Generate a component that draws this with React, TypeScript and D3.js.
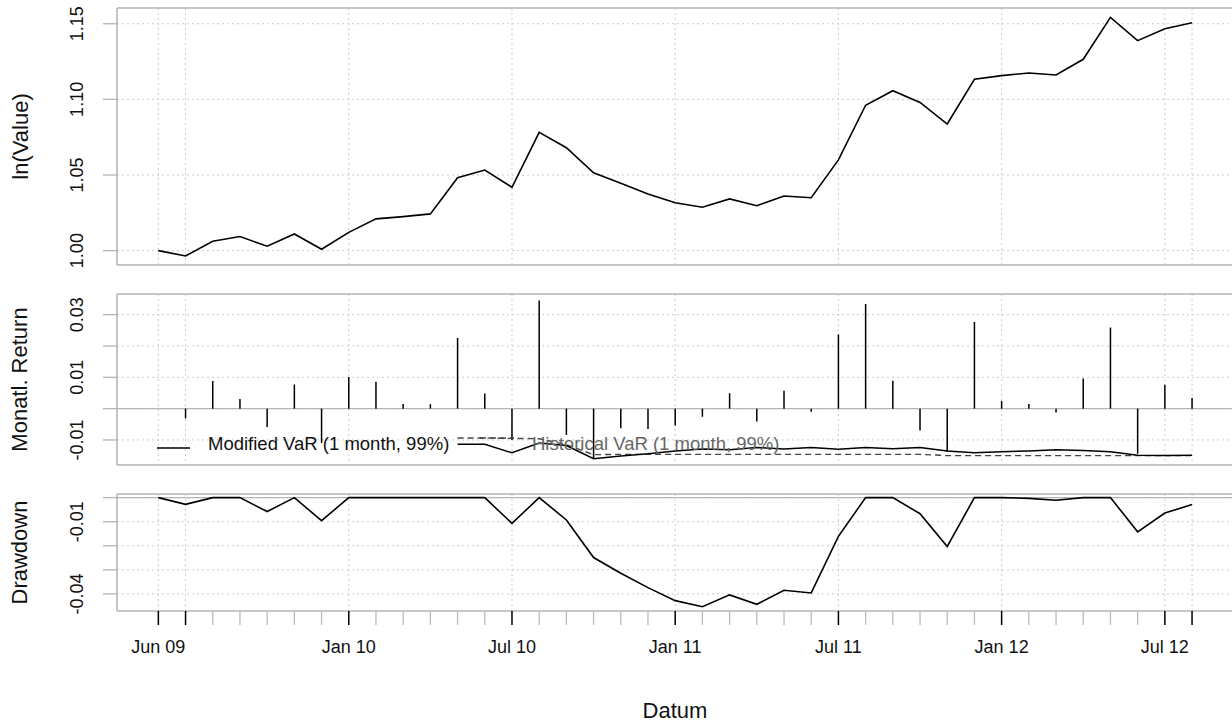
import React from 'react';
import { scalePoint, scaleLinear, line } from 'd3';

// monthly observations, first one is the starting value
const months = [
  'Jun 09', 'Jul 09', 'Aug 09', 'Sep 09', 'Oct 09', 'Nov 09', 'Dec 09',
  'Jan 10', 'Feb 10', 'Mar 10', 'Apr 10', 'May 10', 'Jun 10', 'Jul 10', 'Aug 10', 'Sep 10', 'Oct 10', 'Nov 10', 'Dec 10',
  'Jan 11', 'Feb 11', 'Mar 11', 'Apr 11', 'May 11', 'Jun 11', 'Jul 11', 'Aug 11', 'Sep 11', 'Oct 11', 'Nov 11', 'Dec 11',
  'Jan 12', 'Feb 12', 'Mar 12', 'Apr 12', 'May 12', 'Jun 12', 'Jul 12', 'Aug 12',
];
const labelMonths = ['Jun 09', 'Jan 10', 'Jul 10', 'Jan 11', 'Jul 11', 'Jan 12', 'Jul 12'];
const majorMonths = ['Jun 09', 'Jul 09', 'Jan 10', 'Jul 10', 'Jan 11', 'Jul 11', 'Jan 12', 'Jul 12', 'Aug 12'];

const lnValue = [
  1.000, 0.9965, 1.0062, 1.0093, 1.0029, 1.011, 1.0009, 1.0121, 1.021, 1.0225,
  1.0243, 1.0482, 1.0533, 1.0419, 1.0782, 1.068, 1.0515, 1.0445, 1.0375, 1.0317,
  1.0287, 1.0342, 1.0297, 1.0361, 1.035, 1.060, 1.0961, 1.1057, 1.098, 1.0837,
  1.1133, 1.1157, 1.1174, 1.1161, 1.1265, 1.1542, 1.1388, 1.1467, 1.1507,
];

// from Jul 09
const monthlyReturn = [
  -0.0031, 0.0088, 0.0031, -0.0059, 0.0077, -0.011, 0.0101, 0.0086, 0.0015, 0.0014,
  0.0226, 0.0048, -0.010, 0.0345, -0.0084, -0.0158, -0.0063, -0.0065, -0.0054, -0.0026,
  0.0049, -0.0041, 0.0057, -0.001, 0.0237, 0.0334, 0.0089, -0.007, -0.0137, 0.0277,
  0.0024, 0.0015, -0.0012, 0.0096, 0.0259, -0.0144, 0.0076, 0.0034,
];

// from May 10
const modifiedVaR = [
  -0.0114, -0.0114, -0.0141, -0.0110, -0.0118, -0.0160, -0.0151, -0.0144, -0.0135, -0.0129,
  -0.0131, -0.0124, -0.0129, -0.0124, -0.0130, -0.0124, -0.0128, -0.0124, -0.0135, -0.0141,
  -0.0138, -0.0135, -0.0131, -0.0134, -0.0138, -0.0149, -0.0150, -0.0149,
];
const historicalVaR = [
  -0.0094, -0.0094, -0.0095, -0.0096, -0.0115, -0.0147, -0.0146, -0.0146, -0.0146, -0.0146,
  -0.0146, -0.0146, -0.0146, -0.0146, -0.0146, -0.0146, -0.0146, -0.0146, -0.0150, -0.0150,
  -0.0150, -0.0150, -0.0150, -0.0150, -0.0150, -0.0150, -0.0150, -0.0150,
];

const drawdown = [
  0, -0.0028, 0, 0, -0.0058, 0, -0.0096, 0, 0, 0,
  0, 0, 0, -0.0107, 0, -0.0093, -0.0249, -0.0314, -0.0374, -0.0428,
  -0.0453, -0.0404, -0.0443, -0.0385, -0.0396, -0.0161, 0, 0, -0.0067, -0.0203,
  0, 0, -0.0003, -0.0011, 0, 0, -0.0142, -0.0064, -0.0029,
];

const valueTicks = [1.00, 1.05, 1.10, 1.15];
const valueLabels = ['1.00', '1.05', '1.10', '1.15'];
const returnTicks = [0.03, 0.02, 0.01, 0.00, -0.01];
const returnLabels = ['0.03', '', '0.01', '', '-0.01'];
const ddTicks = [0, -0.01, -0.02, -0.03, -0.04];
const ddLabels = ['', '-0.01', '', '', '-0.04'];

const W = 1232;
const H = 723;
const left = 117;
const right = 1233.4;
const font = '"Liberation Sans", Arial, Helvetica, sans-serif';
const gridCol = '#cccccc';
const boxCol = '#b5b5b5';

const App: React.FC = () => {
  const x = scalePoint<string>().domain(months).range([left, right]).padding(1.52);

  const yTop = scaleLinear([0.9905, 1.1604], [265, 8]);
  const yMid = scaleLinear([-0.018, 0.0366], [465, 294]);
  const yBot = scaleLinear([-0.0471, 0.0015], [611, 494]);

  const panels = [
    { y: yTop, top: 8, bottom: 265, ticks: valueTicks, labels: valueLabels, title: 'ln(Value)', tx: 28, zero: false },
    { y: yMid, top: 294, bottom: 465, ticks: returnTicks, labels: returnLabels, title: 'Monatl. Return', tx: 27, zero: true },
    { y: yBot, top: 494, bottom: 611, ticks: ddTicks, labels: ddLabels, title: 'Drawdown', tx: 27, zero: true },
  ];

  const valueLine = line<number>().x((_, i) => x(months[i])!).y(d => yTop(d))(lnValue) || '';
  const varMonths = months.slice(11);
  const modLine = line<number>().x((_, i) => x(varMonths[i])!).y(d => yMid(d))(modifiedVaR) || '';
  const histLine = line<number>().x((_, i) => x(varMonths[i])!).y(d => yMid(d))(historicalVaR) || '';
  const ddLine = line<number>().x((_, i) => x(months[i])!).y(d => yBot(d))(drawdown) || '';
  const retMonths = months.slice(1);

  return (
    <svg width={W} height={H} style={{ position: 'absolute', left: 0, top: 0, background: '#fff' }} fontFamily={font}>
      {panels.map((p, k) => (
        <g key={k}>
          {/* horizontal grid */}
          {p.ticks.map(t => (
            <line key={'h' + t} x1={left} x2={W} y1={p.y(t)} y2={p.y(t)} stroke={gridCol} strokeDasharray="2,3" />
          ))}
          {/* vertical grid */}
          {majorMonths.map(m => (
            <line key={'v' + m} x1={x(m)} x2={x(m)} y1={p.top} y2={p.bottom} stroke={gridCol} strokeDasharray="2,3" />
          ))}
          {p.zero && <line x1={left} x2={W} y1={p.y(0)} y2={p.y(0)} stroke={boxCol} strokeWidth={1.3} />}
          {/* y axis ticks */}
          {p.ticks.map((t, i) => (
            <g key={'t' + t}>
              <line x1={103} x2={left} y1={p.y(t)} y2={p.y(t)} stroke={boxCol} strokeWidth={1.3} />
              {p.labels[i] && (
                <text transform={`translate(83,${p.y(t)}) rotate(-90)`} textAnchor="middle" fontSize={18} fill="#111">
                  {p.labels[i]}
                </text>
              )}
            </g>
          ))}
          <text transform={`translate(${p.tx},${(p.top + p.bottom) / 2}) rotate(-90)`} textAnchor="middle" fontSize={22} fill="#111">
            {p.title}
          </text>
          <line x1={left} x2={W} y1={p.top} y2={p.top} stroke={boxCol} strokeWidth={1.5} />
          <line x1={left} x2={W} y1={p.bottom} y2={p.bottom} stroke={boxCol} strokeWidth={1.5} />
          <line x1={left} x2={left} y1={p.top} y2={p.bottom} stroke={boxCol} strokeWidth={1.5} />
        </g>
      ))}

      <path d={valueLine} fill="none" stroke="#000" strokeWidth={1.6} />

      {monthlyReturn.map((r, i) => (
        <line key={'r' + i} x1={x(retMonths[i])} x2={x(retMonths[i])} y1={yMid(0)} y2={yMid(r)} stroke="#000" strokeWidth={1.5} />
      ))}
      <path d={histLine} fill="none" stroke="#444" strokeWidth={1.4} strokeDasharray="6,4" />
      <path d={modLine} fill="none" stroke="#000" strokeWidth={1.5} />

      {/* legend */}
      <line x1={157} x2={190} y1={448} y2={448} stroke="#000" strokeWidth={1.5} />
      <text x={208} y={443} dominantBaseline="central" fontSize={18.5} fill="#111">Modified VaR (1 month, 99%)</text>
      <line x1={480} x2={514} y1={438} y2={438} stroke="#444" strokeWidth={1.4} strokeDasharray="6,4" />
      <text x={532} y={443} dominantBaseline="central" fontSize={18.5} fill="#666">Historical VaR (1 month, 99%)</text>

      <path d={ddLine} fill="none" stroke="#000" strokeWidth={1.6} />

      {/* x axis */}
      {months.map(m => {
        const major = majorMonths.includes(m);
        return (
          <line key={'x' + m} x1={x(m)} x2={x(m)} y1={611} y2={625} stroke={major ? '#000' : '#bbb'} strokeWidth={major ? 1.5 : 1.3} />
        );
      })}
      {labelMonths.map(m => (
        <text key={'l' + m} x={x(m)} y={653} textAnchor="middle" fontSize={18} fill="#111">{m}</text>
      ))}
      <text x={675} y={718} textAnchor="middle" fontSize={22} fill="#111">Datum</text>
    </svg>
  );
};

export default App;
